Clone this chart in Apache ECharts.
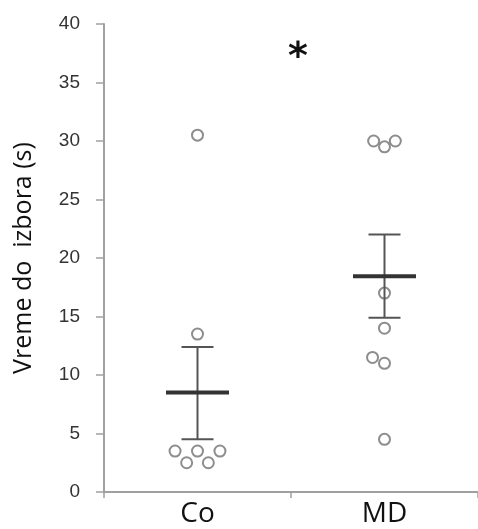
<!DOCTYPE html>
<html>
<head>
<meta charset="utf-8">
<script src="https://cdn.jsdelivr.net/npm/echarts@6/dist/echarts.min.js"></script>
<style>html,body{margin:0;padding:0;background:#fff;}#c{width:478px;height:529px;}</style>
</head>
<body>
<div id="c"></div>
<script>
// ---- data ----
const categories = ['Co', 'MD'];
const yTicks = [0, 5, 10, 15, 20, 25, 30, 35, 40];
const yTitle = 'Vreme do  izbora (s)';
// individual values per group (seconds)
const coValues = [30.5, 13.5, 3.5, 3.5, 3.5, 2.5, 2.5];
const coJitter = [0, 0, -0.12, 0, 0.12, -0.058, 0.058];
const mdValues = [30, 29.5, 30, 17, 14, 11.5, 11, 4.5];
const mdJitter = [-0.058, 0, 0.058, 0, 0, -0.064, 0, 0];
// mean and SEM bounds
const means = [8.5, 18.45];
const lowers = [4.5, 14.9];
const uppers = [12.4, 22.0];
const sigLabel = '*';

const pointData = [];
coValues.forEach((v, i) => pointData.push([0 + coJitter[i], v]));
mdValues.forEach((v, i) => pointData.push([1 + mdJitter[i], v]));
const errData = categories.map((c, i) => [i, means[i], lowers[i], uppers[i]]);

const chart = echarts.init(document.getElementById('c'), null, {renderer: 'canvas'});
chart.setOption({
  animation: false,
  backgroundColor: '#fff',
  grid: {left: 104, right: 0, top: 24, bottom: 37},
  xAxis: [
    {
      type: 'category', data: categories, gridIndex: 0,
      axisLine: {lineStyle: {color: '#a0a0a0', width: 2}},
      axisTick: {show: true, length: 6, lineStyle: {color: '#a0a0a0', width: 1.5}},
      axisLabel: {color: '#111', fontSize: 28, fontFamily: 'Open Sans', margin: 8}
    },
    {
      type: 'value', min: -0.5, max: 1.5, show: false, gridIndex: 0
    }
  ],
  yAxis: {
    type: 'value', min: yTicks[0], max: yTicks[yTicks.length - 1], interval: 5,
    name: yTitle, nameLocation: 'middle', nameGap: 68, nameRotate: 90,
    nameTextStyle: {color: '#111', fontSize: 25, fontFamily: 'Open Sans'},
    axisLine: {show: true, onZero: false, lineStyle: {color: '#a0a0a0', width: 2}},
    axisTick: {show: true, length: 8, lineStyle: {color: '#a0a0a0', width: 1.5}},
    axisLabel: {color: '#333', fontSize: 19, fontFamily: 'Liberation Sans', margin: 24},
    splitLine: {show: false}
  },
  graphic: [{
    type: 'text', left: 288, top: 39,
    style: {text: sigLabel, fontSize: 38, fontWeight: 'bold', fontFamily: 'DejaVu Sans', fill: '#111'}
  }],
  series: [
    {
      type: 'scatter', xAxisIndex: 1, data: pointData,
      symbol: 'circle', symbolSize: 11,
      itemStyle: {color: 'rgba(255,255,255,0)', borderColor: '#707070', borderWidth: 2},
      z: 2
    },
    {
      type: 'custom', xAxisIndex: 1, data: errData, z: 3,
      renderItem: function (params, api) {
        const x = api.value(0);
        const m = api.coord([x, api.value(1)]);
        const lo = api.coord([x, api.value(2)]);
        const hi = api.coord([x, api.value(3)]);
        const capW = 16, meanW = 31.5;
        const thin = {stroke: '#555', lineWidth: 2};
        return {
          type: 'group',
          children: [
            {type: 'line', shape: {x1: lo[0], y1: lo[1], x2: hi[0], y2: hi[1]}, style: thin},
            {type: 'line', shape: {x1: lo[0] - capW, y1: lo[1], x2: lo[0] + capW, y2: lo[1]}, style: thin},
            {type: 'line', shape: {x1: hi[0] - capW, y1: hi[1], x2: hi[0] + capW, y2: hi[1]}, style: thin},
            {type: 'line', shape: {x1: m[0] - meanW, y1: m[1], x2: m[0] + meanW, y2: m[1]}, style: {stroke: '#333', lineWidth: 4}}
          ]
        };
      }
    }
  ]
});
</script>
</body>
</html>
